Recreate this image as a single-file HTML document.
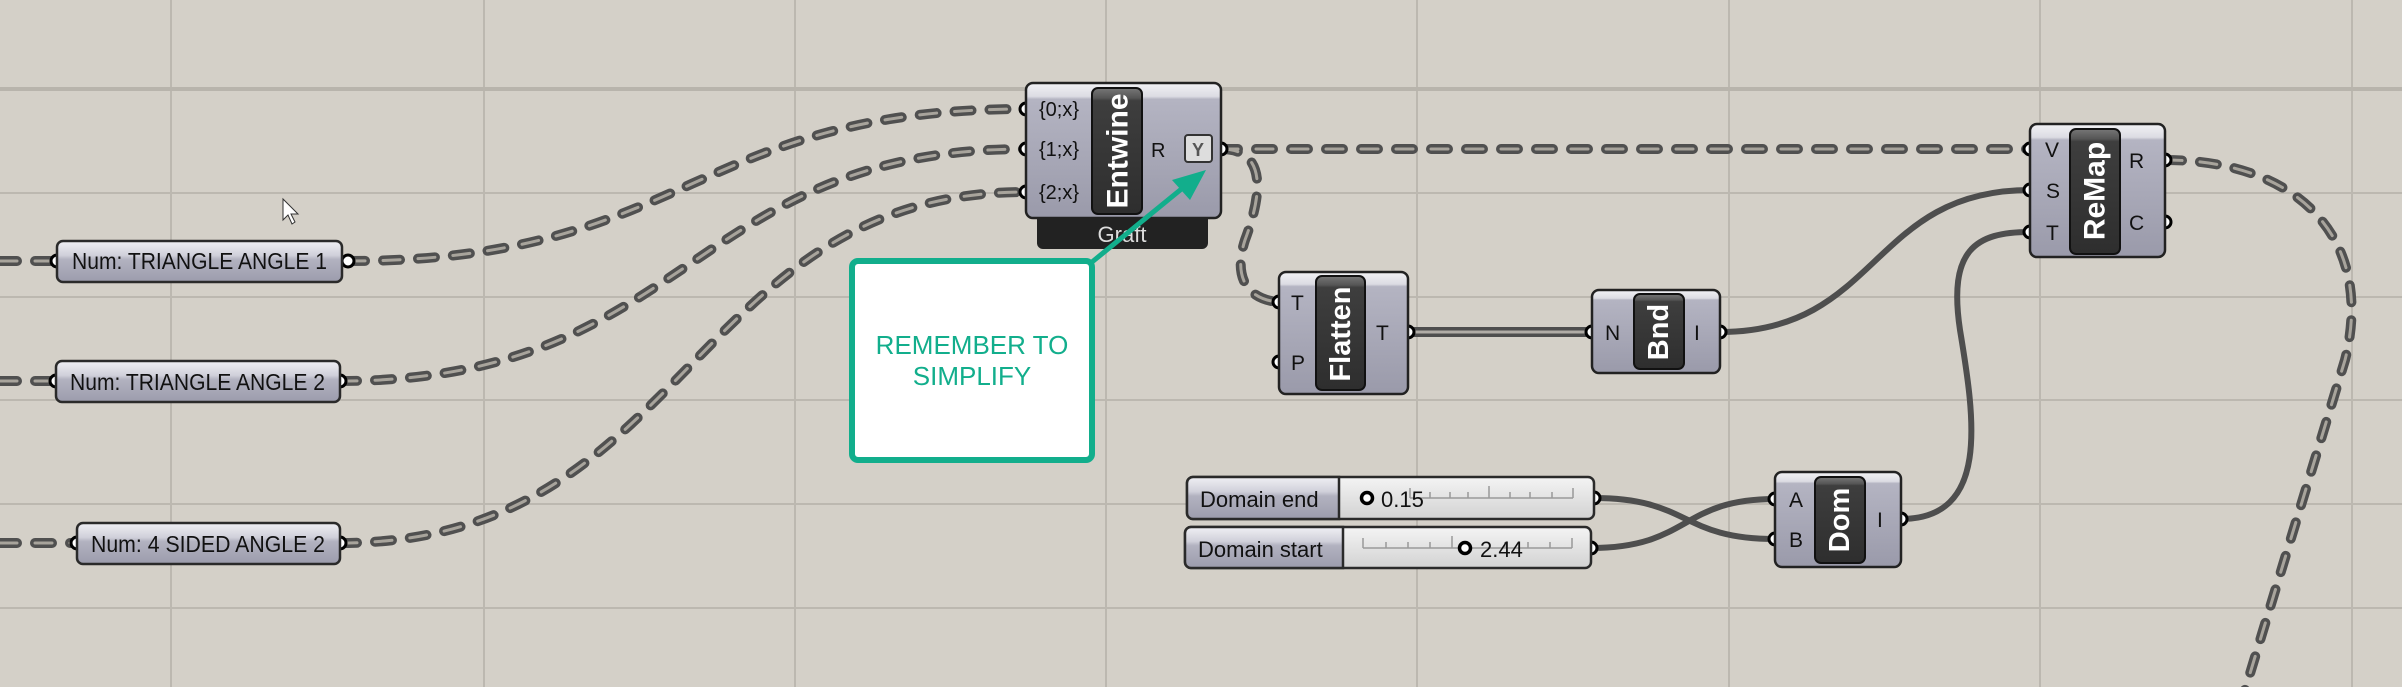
<!DOCTYPE html>
<html><head><meta charset="utf-8"><style>
html,body{margin:0;padding:0;background:#d4d0c8;}
svg{display:block}
text{font-family:"Liberation Sans Narrow","Liberation Sans",sans-serif;}
</style></head><body>
<svg width="2402" height="687" viewBox="0 0 2402 687" xmlns="http://www.w3.org/2000/svg">
<defs>
<linearGradient id="comp" x1="0" y1="0" x2="0" y2="1">
<stop offset="0" stop-color="#f2f2f5"/><stop offset="0.1" stop-color="#dcdce3"/><stop offset="0.12" stop-color="#b4b4c2"/><stop offset="1" stop-color="#9a9aaa"/></linearGradient>
<linearGradient id="num" x1="0" y1="0" x2="0" y2="1">
<stop offset="0" stop-color="#f0f0f4"/><stop offset="0.35" stop-color="#d0d0da"/><stop offset="0.45" stop-color="#b2b2c0"/><stop offset="1" stop-color="#9c9cac"/></linearGradient>
<linearGradient id="dark" x1="0" y1="0" x2="0" y2="1">
<stop offset="0" stop-color="#777"/><stop offset="0.08" stop-color="#555"/><stop offset="0.1" stop-color="#3e3e3e"/><stop offset="1" stop-color="#2e2e2e"/></linearGradient>
<linearGradient id="val" x1="0" y1="0" x2="0" y2="1">
<stop offset="0" stop-color="#f4f4f4"/><stop offset="1" stop-color="#d2d2d2"/></linearGradient>
</defs>
<!-- grid -->
<g stroke="#bcb8b0" stroke-width="2">
<line x1="171" y1="0" x2="171" y2="687"/><line x1="484" y1="0" x2="484" y2="687"/><line x1="795" y1="0" x2="795" y2="687"/><line x1="1106" y1="0" x2="1106" y2="687"/><line x1="1417" y1="0" x2="1417" y2="687"/><line x1="1729" y1="0" x2="1729" y2="687"/><line x1="2040" y1="0" x2="2040" y2="687"/><line x1="2352" y1="0" x2="2352" y2="687"/>
<line x1="0" y1="193" x2="2402" y2="193"/><line x1="0" y1="297" x2="2402" y2="297"/><line x1="0" y1="400" x2="2402" y2="400"/><line x1="0" y1="504" x2="2402" y2="504"/><line x1="0" y1="608" x2="2402" y2="608"/>
</g>
<line x1="0" y1="89" x2="2402" y2="89" stroke="#b8b4ac" stroke-width="4"/>

<!-- dashed wires -->
<g fill="none" stroke-linecap="round">
<g stroke="#505050" stroke-width="10" stroke-dasharray="17 18">
<path d="M0,261 L57,261"/><path d="M0,381 L56,381"/><path d="M0,543 L77,543"/>
<path d="M348,261 C690,261 690,109 1026,109"/>
<path d="M340,381 C690,381 690,149 1026,149"/>
<path d="M340,543 C690,543 690,192 1026,192"/>
<path d="M1221,149 L2030,149"/>
<path d="M1221,149 C1270,149 1260,200 1245,240 C1232,280 1250,300 1279,302"/>
<path d="M2165,160 C2300,160 2375,240 2345,360 L2245,690"/>
</g>
<g stroke="#a8a49c" stroke-width="3" stroke-dasharray="17 18">
<path d="M0,261 L57,261"/><path d="M0,381 L56,381"/><path d="M0,543 L77,543"/>
<path d="M348,261 C690,261 690,109 1026,109"/>
<path d="M340,381 C690,381 690,149 1026,149"/>
<path d="M340,543 C690,543 690,192 1026,192"/>
<path d="M1221,149 L2030,149"/>
<path d="M1221,149 C1270,149 1260,200 1245,240 C1232,280 1250,300 1279,302"/>
<path d="M2165,160 C2300,160 2375,240 2345,360 L2245,690"/>
</g>
</g>
<!-- solid wires -->
<g fill="none" stroke="#4e4e4e" stroke-width="6">
<path d="M1720,332 C1880,332 1870,190 2030,190"/>
<path d="M1901,519 C1990,519 1975,420 1960,330 C1948,250 1975,232 2030,232"/>
<path d="M1594,498 C1690,498 1680,539 1775,539"/>
<path d="M1591,548 C1690,548 1680,499 1775,499"/>
</g>
<line x1="1408" y1="332" x2="1592" y2="332" stroke="#4e4e4e" stroke-width="10"/>
<line x1="1408" y1="332" x2="1592" y2="332" stroke="#b0aca6" stroke-width="3"/>

<!-- ports -->
<g fill="#fff" stroke="#000" stroke-width="3">
<circle cx="57" cy="261" r="6"/><circle cx="348" cy="261" r="6"/>
<circle cx="56" cy="381" r="6"/><circle cx="340" cy="381" r="6"/>
<circle cx="77" cy="543" r="6"/><circle cx="340" cy="543" r="6"/>
<circle cx="1026" cy="109" r="6"/><circle cx="1026" cy="149" r="6"/><circle cx="1026" cy="192" r="6"/><circle cx="1221" cy="149" r="6"/>
<circle cx="1279" cy="302" r="6"/><circle cx="1279" cy="362" r="6"/><circle cx="1408" cy="332" r="6"/>
<circle cx="1592" cy="332" r="6"/><circle cx="1720" cy="332" r="6"/>
<circle cx="2030" cy="149" r="6"/><circle cx="2030" cy="190" r="6"/><circle cx="2030" cy="232" r="6"/><circle cx="2165" cy="160" r="6"/><circle cx="2165" cy="222" r="6"/>
<circle cx="1594" cy="498" r="6"/><circle cx="1591" cy="548" r="6"/>
<circle cx="1775" cy="499" r="6"/><circle cx="1775" cy="539" r="6"/><circle cx="1901" cy="519" r="6"/>
</g>

<!-- Num panels -->
<g stroke="#2a2a2a" stroke-width="2.5" fill="url(#num)">
<rect x="57" y="241" width="285" height="41" rx="6"/>
<rect x="56" y="361" width="284" height="41" rx="6"/>
<rect x="77" y="523" width="263" height="41" rx="6"/>
</g>
<g font-size="23" fill="#111">
<text x="72" y="269" textLength="255" lengthAdjust="spacingAndGlyphs">Num: TRIANGLE ANGLE 1</text>
<text x="70" y="390" textLength="255" lengthAdjust="spacingAndGlyphs">Num: TRIANGLE ANGLE 2</text>
<text x="91" y="552" textLength="234" lengthAdjust="spacingAndGlyphs">Num: 4 SIDED ANGLE 2</text>
</g>

<!-- Entwine -->
<rect x="1037" y="200" width="171" height="49" rx="6" fill="#222"/>
<text x="1122" y="242" font-size="22" fill="#ddd" text-anchor="middle">Graft</text>
<rect x="1026" y="83" width="195" height="135" rx="7" fill="url(#comp)" stroke="#222" stroke-width="2.5"/>
<rect x="1092" y="88" width="50" height="126" rx="6" fill="url(#dark)" stroke="#111" stroke-width="2"/>
<text transform="translate(1118,151) rotate(-90)" font-family="Liberation Sans" font-weight="bold" font-size="30" fill="#fff" text-anchor="middle" dominant-baseline="central">Entwine</text>
<g font-size="20" fill="#111">
<text x="1039" y="116">{0;x}</text><text x="1039" y="156">{1;x}</text><text x="1039" y="199">{2;x}</text>
<text x="1151" y="157">R</text>
</g>
<rect x="1185" y="135" width="27" height="27" rx="3" fill="#ddd" stroke="#333" stroke-width="2"/>
<text x="1198" y="156" font-size="18" font-weight="bold" fill="#555" text-anchor="middle">Y</text>

<!-- Flatten -->
<rect x="1279" y="272" width="129" height="122" rx="7" fill="url(#comp)" stroke="#222" stroke-width="2.5"/>
<rect x="1316" y="276" width="49" height="114" rx="6" fill="url(#dark)" stroke="#111" stroke-width="2"/>
<text transform="translate(1341,334) rotate(-90)" font-family="Liberation Sans" font-weight="bold" font-size="29" fill="#fff" text-anchor="middle" dominant-baseline="central">Flatten</text>
<g font-size="21" fill="#111"><text x="1291" y="310">T</text><text x="1291" y="370">P</text><text x="1376" y="340">T</text></g>

<!-- Bnd -->
<rect x="1592" y="290" width="128" height="83" rx="7" fill="url(#comp)" stroke="#222" stroke-width="2.5"/>
<rect x="1634" y="294" width="50" height="75" rx="6" fill="url(#dark)" stroke="#111" stroke-width="2"/>
<text transform="translate(1659,332) rotate(-90)" font-family="Liberation Sans" font-weight="bold" font-size="29" fill="#fff" text-anchor="middle" dominant-baseline="central">Bnd</text>
<g font-size="21" fill="#111"><text x="1605" y="340">N</text><text x="1694" y="340">I</text></g>

<!-- ReMap -->
<rect x="2030" y="124" width="135" height="133" rx="7" fill="url(#comp)" stroke="#222" stroke-width="2.5"/>
<rect x="2070" y="129" width="50" height="125" rx="6" fill="url(#dark)" stroke="#111" stroke-width="2"/>
<text transform="translate(2095,191) rotate(-90)" font-family="Liberation Sans" font-weight="bold" font-size="30" fill="#fff" text-anchor="middle" dominant-baseline="central">ReMap</text>
<g font-size="21" fill="#111"><text x="2045" y="157">V</text><text x="2046" y="198">S</text><text x="2046" y="240">T</text><text x="2129" y="168">R</text><text x="2129" y="230">C</text></g>

<!-- Domain sliders -->
<rect x="1187" y="477" width="407" height="42" rx="6" fill="url(#val)" stroke="#2a2a2a" stroke-width="2.5"/>
<path d="M1193,477 H1339 V519 H1193 a6,6 0 0 1 -6,-6 V483 a6,6 0 0 1 6,-6Z" fill="url(#num)" stroke="#2a2a2a" stroke-width="2.5"/>
<text x="1200" y="507" font-size="22" fill="#111">Domain end</text>
<g stroke="#999" stroke-width="1.5"><line x1="1410" y1="498" x2="1573" y2="498"/>
<line x1="1410" y1="488" x2="1410" y2="498"/><line x1="1430" y1="492" x2="1430" y2="498"/><line x1="1450" y1="492" x2="1450" y2="498"/><line x1="1468" y1="492" x2="1468" y2="498"/><line x1="1489" y1="486" x2="1489" y2="498"/><line x1="1510" y1="492" x2="1510" y2="498"/><line x1="1530" y1="492" x2="1530" y2="498"/><line x1="1552" y1="492" x2="1552" y2="498"/><line x1="1573" y1="488" x2="1573" y2="498"/></g>
<circle cx="1367" cy="498" r="5.5" fill="#fff" stroke="#000" stroke-width="3.5"/>
<text x="1381" y="507" font-size="22" fill="#111">0.15</text>

<rect x="1185" y="527" width="406" height="41" rx="6" fill="url(#val)" stroke="#2a2a2a" stroke-width="2.5"/>
<path d="M1191,527 H1343 V568 H1191 a6,6 0 0 1 -6,-6 V533 a6,6 0 0 1 6,-6Z" fill="url(#num)" stroke="#2a2a2a" stroke-width="2.5"/>
<text x="1198" y="557" font-size="22" fill="#111">Domain start</text>
<g stroke="#999" stroke-width="1.5"><line x1="1363" y1="548" x2="1572" y2="548"/>
<line x1="1363" y1="538" x2="1363" y2="548"/><line x1="1386" y1="542" x2="1386" y2="548"/><line x1="1408" y1="542" x2="1408" y2="548"/><line x1="1430" y1="542" x2="1430" y2="548"/><line x1="1452" y1="536" x2="1452" y2="548"/><line x1="1505" y1="542" x2="1505" y2="548"/><line x1="1528" y1="542" x2="1528" y2="548"/><line x1="1550" y1="542" x2="1550" y2="548"/><line x1="1572" y1="538" x2="1572" y2="548"/></g>
<circle cx="1465" cy="548" r="5.5" fill="#fff" stroke="#000" stroke-width="3.5"/>
<text x="1480" y="557" font-size="22" fill="#111">2.44</text>

<!-- Dom -->
<rect x="1775" y="472" width="126" height="95" rx="7" fill="url(#comp)" stroke="#222" stroke-width="2.5"/>
<rect x="1815" y="477" width="50" height="86" rx="6" fill="url(#dark)" stroke="#111" stroke-width="2"/>
<text transform="translate(1840,520) rotate(-90)" font-family="Liberation Sans" font-weight="bold" font-size="29" fill="#fff" text-anchor="middle" dominant-baseline="central">Dom</text>
<g font-size="21" fill="#111"><text x="1789" y="507">A</text><text x="1789" y="547">B</text><text x="1877" y="527">I</text></g>

<!-- note -->
<rect x="852" y="261" width="240" height="199" rx="6" fill="#fff" stroke="#12ae8c" stroke-width="6"/>
<g font-family="Liberation Sans" font-size="26" fill="#12ae8c" text-anchor="middle">
<text x="972" y="354">REMEMBER TO</text><text x="972" y="385">SIMPLIFY</text></g>
<line x1="1092" y1="262" x2="1190" y2="182" stroke="#12ae8c" stroke-width="5"/>
<polygon points="1206,170 1172,180 1190,200" fill="#12ae8c"/>

<!-- cursor -->
<polygon points="283,199 283,220 288,215 292,224 295,222 291,214 298,214" fill="#fff" stroke="#333" stroke-width="1"/>
</svg>
</body></html>
